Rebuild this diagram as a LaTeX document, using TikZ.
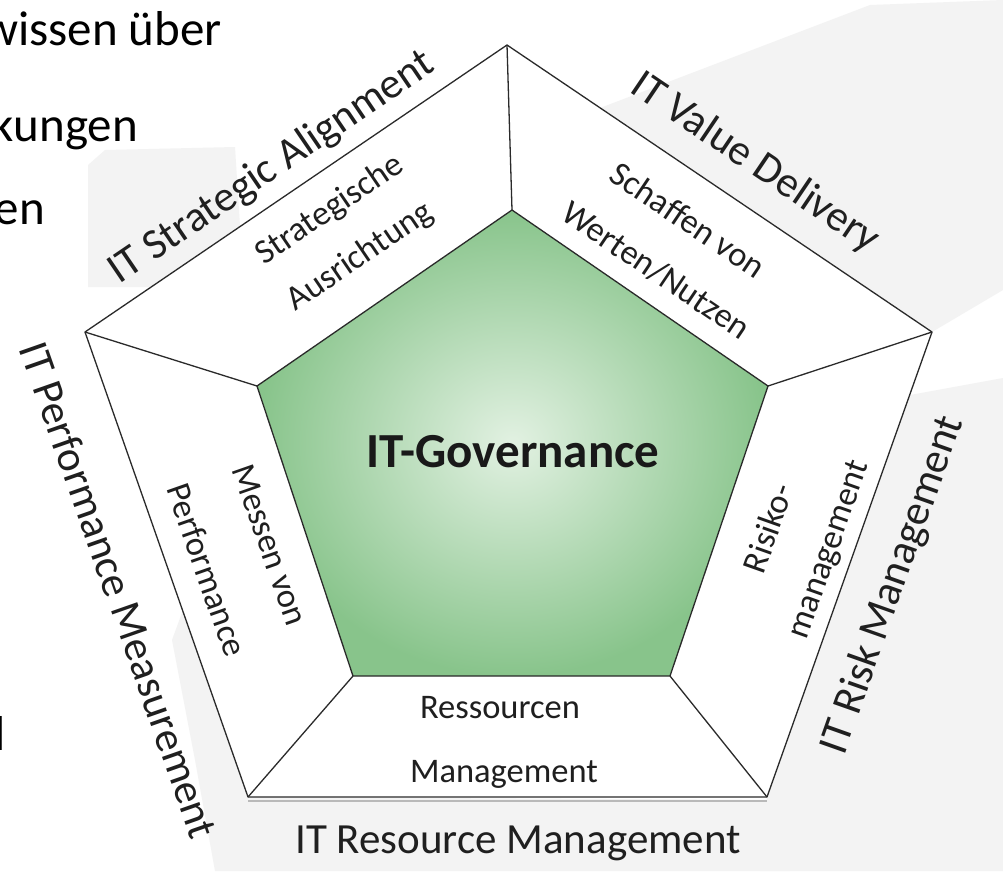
\documentclass[tikz,border=0pt]{standalone}
\usepackage{fontspec}
\setmainfont{Carlito}
\definecolor{edgecol}{HTML}{2A2A2A}
\definecolor{bggray}{HTML}{F3F3F3}
\definecolor{gdark}{RGB}{136,196,139}
\definecolor{glight}{RGB}{226,241,226}
\begin{document}
\begin{tikzpicture}[x=1pt,y=-1pt,
  outerlbl/.style={inner sep=0pt, font=\fontsize{43}{50}\selectfont, text=black!88},
  innerlbl/.style={inner sep=0pt, font=\fontsize{34.5}{40}\selectfont, text=black!88},
  slidetxt/.style={inner sep=0pt, font=\fontsize{49}{58}\selectfont, text=black},
  rim/.style={draw=edgecol, line width=1.3pt, line join=round}]
\useasboundingbox (0,0) rectangle (1003,871);
\fill[white] (0,0) rectangle (1003,871);
% light gray background swoosh
\fill[bggray] (600,108) -- (870,5) -- (1003,0) -- (1003,290) -- (932,332) -- cycle;
\fill[bggray] (910,395) -- (1003,378) -- (1003,871) -- (760,871) -- (767,797) -- cycle;
\fill[bggray] (183,610) -- (248,797) -- (790,800) -- (790,871) -- (215,871) -- (195,760) -- (172,640) -- cycle;
\fill[bggray] (88,287) -- (88,165) -- (105,150) -- (235,147) -- (240,226) -- (151,287) -- cycle;
% vertices
\coordinate (T) at (507,45);
\coordinate (UR) at (932,332);
\coordinate (LR) at (767,797);
\coordinate (LL) at (248,797);
\coordinate (L) at (85,332);
\coordinate (t) at (512,210);
\coordinate (ur) at (768,386);
\coordinate (lr) at (670,676);
\coordinate (ll) at (353,676);
\coordinate (l) at (257,386);
% pentagons
\fill[white] (T) -- (UR) -- (LR) -- (LL) -- (L) -- cycle;
\draw[gray!55, line width=1.2pt] ([yshift=-4pt]LL) -- ([yshift=-4pt]LR);
\shade[inner color=glight, outer color=gdark] (t) -- (ur) -- (lr) -- (ll) -- (l) -- cycle;
\draw[rim] (T) -- (UR) -- (LR) -- (LL) -- (L) -- cycle;
\draw[rim] (t) -- (ur) -- (lr) -- (ll) -- (l) -- cycle;
\draw[rim] (T) -- (t);
\draw[rim] (UR) -- (ur);
\draw[rim] (LR) -- (lr);
\draw[rim] (LL) -- (ll);
\draw[rim] (L) -- (l);
% centre
\node[inner sep=0pt, font=\fontsize{49}{56}\selectfont\bfseries, text=black!90] (gov) at (513,452) {IT-Governance};
% outer labels
\node[outerlbl, rotate=34.2] (sa) at (272,168) {IT Strategic Alignment};
\node[outerlbl, rotate=-34] (vd) at (755,163) {IT Value Delivery};
\node[outerlbl, rotate=70.5] (rm) at (893,585) {IT Risk Management};
\node[outerlbl, rotate=-70.7] (pm) at (119,590) {IT Performance Measurement};
\node[outerlbl, anchor=base] (resm) at (518,853) {IT Resource Management};
% inner labels
\node[innerlbl, rotate=34.2] (s1) at (330,210) {Strategische};
\node[innerlbl, rotate=34.2] (s2) at (360,257) {Ausrichtung};
\node[innerlbl, rotate=-34] (v1) at (688,220) {Schaffen von};
\node[innerlbl, rotate=-34] (v2) at (656,270) {Werten/Nutzen};
\node[innerlbl, rotate=70.5] (r1) at (768,528) {Risiko-};
\node[innerlbl, rotate=70.5] (r2) at (830,550) {management};
\node[innerlbl, rotate=-70.7] (p1) at (270,545) {Messen von};
\node[innerlbl, rotate=-70.7] (p2) at (207,570) {Performance};
\node[innerlbl, anchor=base] (m1) at (500,718) {Ressourcen};
\node[innerlbl, anchor=base] (m2) at (504,782) {Management};
% slide text fragments
\node[slidetxt, anchor=base east] (w1) at (222,45) {wissen über};
\node[slidetxt, anchor=base east] (w2) at (138,141) {kungen};
\node[slidetxt, anchor=base east] (w3) at (45,224) {en};
\node[slidetxt, anchor=base west] (w4) at (-6,750) {l};
\end{tikzpicture}
\end{document}
